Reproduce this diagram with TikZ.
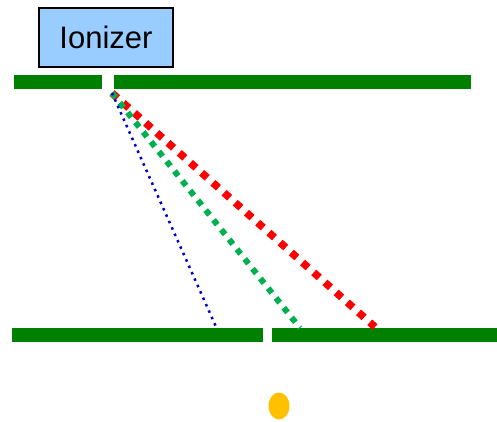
\documentclass[tikz,border=0pt]{standalone}
\usepackage{fontspec}
\setmainfont{Liberation Sans}
\usetikzlibrary{positioning,shapes.geometric}
\definecolor{plategreen}{RGB}{0,128,0}
\definecolor{ionblue}{RGB}{153,204,255}
\definecolor{pathred}{RGB}{255,0,0}
\definecolor{pathgreen}{RGB}{0,176,80}
\definecolor{pathblue}{RGB}{0,0,204}
\definecolor{spotgold}{RGB}{255,192,0}
\begin{document}
\begin{tikzpicture}[
 x=1pt,y=-1pt,
 plate/.style={fill=plategreen,draw=none},
 ionbox/.style={rectangle,draw=black,fill=ionblue,line width=1.3pt,minimum width=134pt,minimum height=59pt,font=\fontsize{31}{35}\selectfont},
 heavy/.style={pathred,line width=7.5pt,dash pattern=on 7.5pt off 7.5pt},
 middle/.style={pathgreen,line width=6pt,dash pattern=on 6pt off 6.5pt},
 light/.style={pathblue,line width=2.5pt,dash pattern=on 2.5pt off 4.5pt}
]
\useasboundingbox (0,0) rectangle (497,422);
\node[ionbox] (ion) at (106,37.5) {Ionizer};
\fill[plate] (14,75) rectangle (102,89);
\fill[plate] (114,75) rectangle (471,89);
\fill[plate] (12,328) rectangle (263,342);
\fill[plate] (272,328) rectangle (497,342);
\coordinate (src) at (112,93);
\coordinate (hitR) at (375,327);
\coordinate (hitG) at (300,328);
\coordinate (hitB) at (217,329);
\draw[heavy] (src) -- (hitR);
\draw[middle] (src) -- (hitG);
\draw[light] (src) -- (hitB);
\node[ellipse,fill=spotgold,minimum width=21pt,minimum height=27pt,inner sep=0pt] (spot) at (279,406) {};
\end{tikzpicture}
\end{document}
